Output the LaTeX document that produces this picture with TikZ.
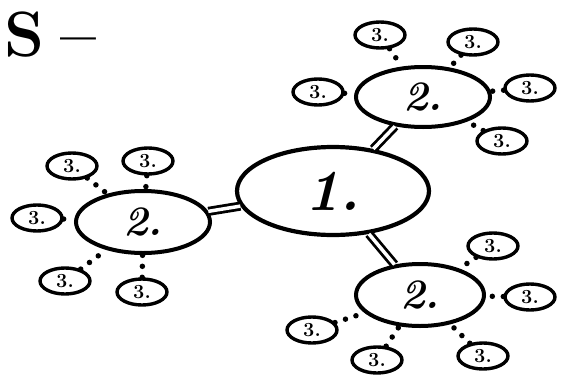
\documentclass[tikz,border=0pt]{standalone}
\usetikzlibrary{shapes.geometric}
\begin{document}
\begin{tikzpicture}[x=1pt,y=-1pt,
  big/.style={ellipse,draw,line width=4.2pt,inner sep=0pt,font=\fontsize{58}{58}\selectfont\bfseries\itshape},
  mid/.style={ellipse,draw,line width=4pt,inner sep=0pt,font=\fontsize{42}{42}\selectfont\bfseries\itshape},
  small/.style={ellipse,draw,line width=3.4pt,inner sep=0pt,minimum width=50pt,minimum height=26pt,font=\fontsize{20}{20}\selectfont\bfseries},
  link/.style={double,double distance=3.5pt,line width=2.8pt},
  dots/.style={line width=5.5pt,line cap=round,dash pattern=on 0pt off 11pt},
  titletext/.style={inner sep=0pt,font=\fontsize{64}{64}\selectfont\bfseries}
]
\useasboundingbox (0,0) rectangle (562,391);
\node[titletext,anchor=base west] (title) at (4,56) {S\hspace{16pt}--};
% main nodes
\node[big,minimum width=192pt,minimum height=88pt] (n1) at (333,191) {1.};
\node[mid,minimum width=134pt,minimum height=60pt] (a) at (423,97) {2.};
\node[mid,minimum width=134pt,minimum height=62pt] (b) at (143,222) {2.};
\node[mid,minimum width=128pt,minimum height=62pt] (c) at (420,295) {2.};
\draw[link] (n1) -- (a);
\draw[link] (n1) -- (b);
\draw[link] (n1) -- (c);
% group a
\node[small] (a1) at (380,35) {3.};
\node[small] (a2) at (473,42) {3.};
\node[small] (a3) at (530,88) {3.};
\node[small] (a4) at (502,141) {3.};
\node[small] (a5) at (318,92) {3.};
% group b
\node[small] (b1) at (72,166) {3.};
\node[small] (b2) at (148,161) {3.};
\node[small] (b3) at (37,218) {3.};
\node[small] (b4) at (65,281) {3.};
\node[small] (b5) at (142,292) {3.};
% group c
\node[small] (c1) at (493,246) {3.};
\node[small] (c2) at (530,297) {3.};
\node[small] (c3) at (483,356) {3.};
\node[small] (c4) at (377,360) {3.};
\node[small] (c5) at (312,330) {3.};
\foreach \s in {a1,a2,a3,a4,a5} \draw[dots] (\s) -- (a);
\foreach \s in {b1,b2,b3,b4,b5} \draw[dots] (\s) -- (b);
\foreach \s in {c1,c2,c3,c4,c5} \draw[dots] (\s) -- (c);
\end{tikzpicture}
\end{document}
